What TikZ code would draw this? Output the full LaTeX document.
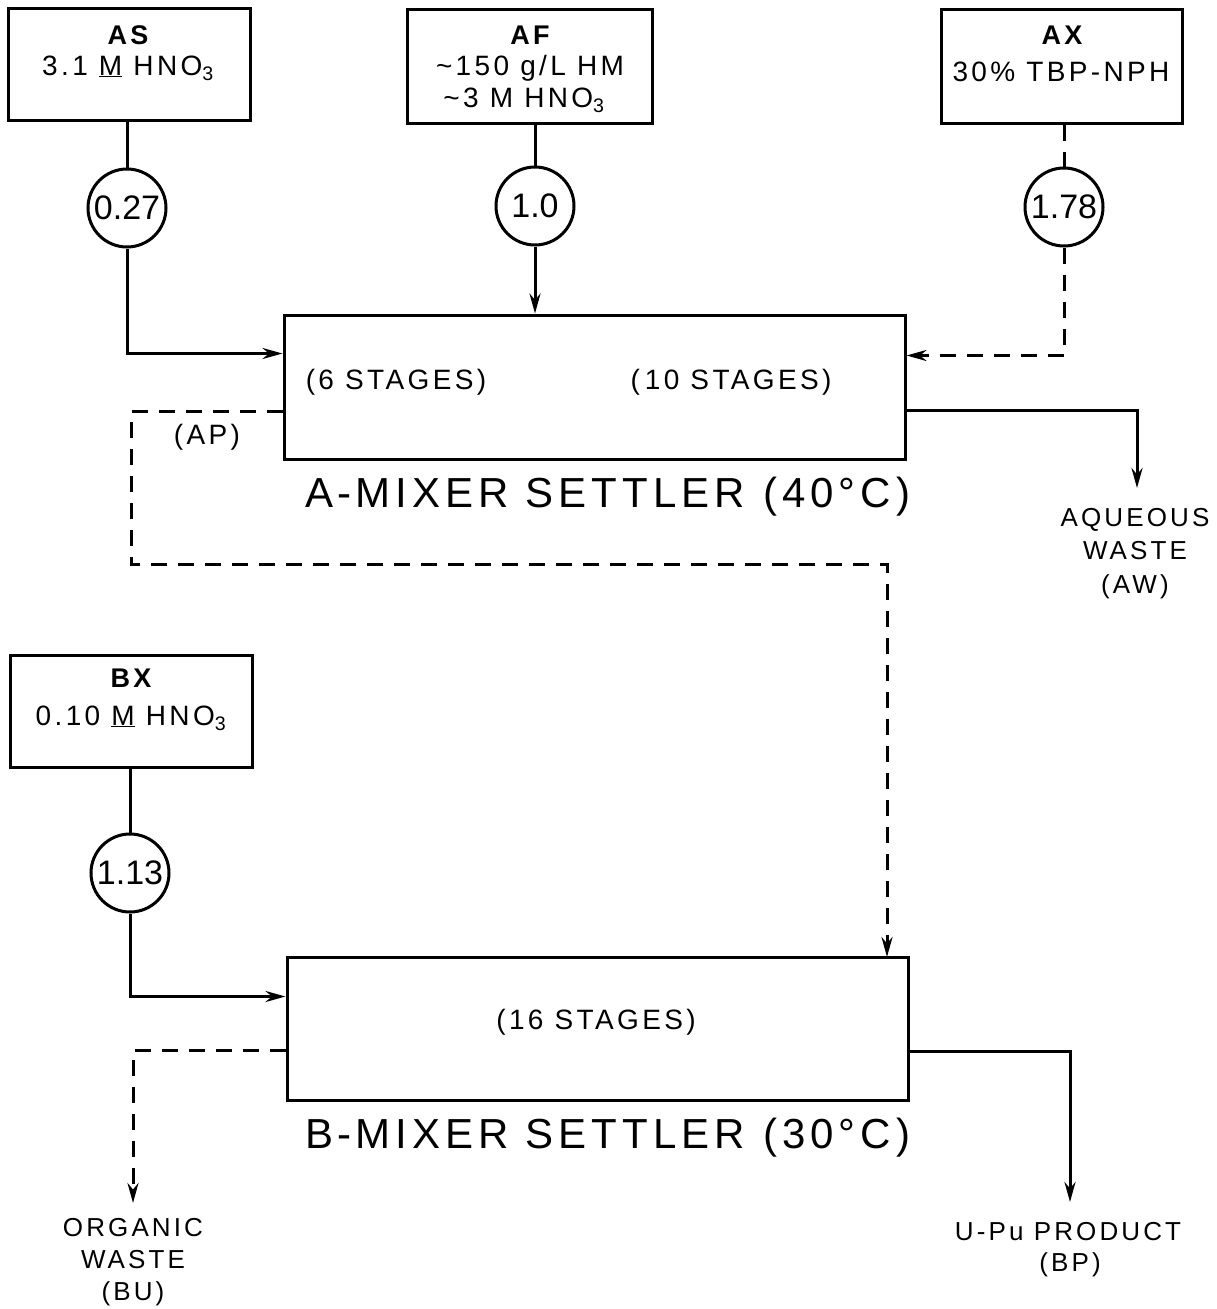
\documentclass[tikz,border=0pt]{standalone}
\usepackage{fontspec}
\setmainfont{Liberation Sans}
\newfontfamily\lr[LetterSpace=12]{Liberation Sans}
\usetikzlibrary{arrows.meta,calc}
\begin{document}
\begin{tikzpicture}[x=1pt,y=-1pt,
  line width=3pt,
  box/.style={draw,rectangle,inner sep=0pt},
  flow/.style={circle,draw,minimum size=78pt,inner sep=0pt,font=\fontsize{34}{36}\selectfont},
  arr/.style={-{Stealth[length=20pt,width=11pt]}},
  dsh/.style={dash pattern=on 16pt off 11pt},
  lab/.style={font=\lr\fontsize{28}{30}\selectfont,inner sep=0pt},
  small/.style={font=\lr\fontsize{26}{28}\selectfont,inner sep=0pt},
  big/.style={font=\lr\fontsize{42}{44}\selectfont,inner sep=0pt},
  head/.style={font=\lr\bfseries\fontsize{27}{28}\selectfont,inner sep=0pt},
]
\useasboundingbox (0,0) rectangle (1217,1309);
% feed boxes
\node[box,minimum width=242pt,minimum height=112pt] (AS) at (129,64) {};
\node[box,minimum width=245pt,minimum height=114pt] (AF) at (529.5,66) {};
\node[box,minimum width=241pt,minimum height=114pt] (AX) at (1061.5,66) {};
\node[box,minimum width=242pt,minimum height=112pt] (BX) at (131,711) {};
% box texts
\node[head] (tAS) at (128,35) {AS};
\node[lab] (tAS2) at (128,68) {3.1 \underline{M} HNO\textsubscript{3}};
\node[head] (tAF) at (530,35) {AF};
\node[lab] (tAF2) at (530,68) {\textasciitilde150 g/L HM};
\node[lab] (tAF3) at (524,100) {\textasciitilde3 M HNO\textsubscript{3}};
\node[head] (tAX) at (1062,35) {AX};
\node[lab] (tAX2) at (1061,72) {30\% TBP-NPH};
\node[head] (tBX) at (131,678) {BX};
\node[lab] (tBX2) at (131,718) {0.10 \underline{M} HNO\textsubscript{3}};
% flow circles
\node[flow] (c1) at (127,208) {0.27};
\node[flow] (c2) at (535,206) {1.0};
\node[flow] (c3) at (1064,207) {1.78};
\node[flow] (c4) at (130,873) {1.13};
% mixer settlers
\node[box,minimum width=621pt,minimum height=144pt] (A) at (594.5,387) {};
\node[box,minimum width=621pt,minimum height=143pt] (B) at (597.5,1028.5) {};
\node[lab] (s6) at (396,382) {(6 STAGES)};
\node[lab] (s10) at (731,382) {(\hspace{5pt}10 STAGES)};
\node[lab] (s16) at (596,1022) {(16 STAGES)};
\node[lab] (ap) at (207,437) {(AP)};
\node[big] (tA) at (608,497) {A\hspace{4pt}-\hspace{4pt}MIXER SETTLER\hspace{18pt}(40\textdegree C)};
\node[big] (tB) at (608,1138) {B\hspace{4pt}-\hspace{4pt}MIXER SETTLER\hspace{18pt}(30\textdegree C)};
% outlet labels
\node[small] (aw1) at (1135,520) {AQUEOUS};
\node[small] (aw2) at (1135,551) {WASTE};
\node[small] (aw3) at (1135,587) {(AW)};
\node[small] (bu1) at (133,1228) {ORGANIC};
\node[small] (bu2) at (133,1260) {WASTE};
\node[small] (bu3) at (133,1294) {(BU)};
\node[small] (bp1) at (1068,1232) {U-Pu PRODUCT};
\node[small] (bp2) at (1070,1265) {(BP)};
% coordinates
\coordinate (Ain) at ($(A.north west)+(0,40)$);
\coordinate (Axin) at ($(A.north east)+(0,42)$);
\coordinate (Aw) at ($(A.north east)+(0,97)$);
\coordinate (Aap) at ($(A.north west)+(0,98)$);
\coordinate (awtip) at (1137,488);
\coordinate (apc) at (131,564);
\coordinate (apend) at (887,957);
\coordinate (Bin) at ($(B.north west)+(0,41)$);
\coordinate (Bu) at ($(B.north west)+(0,95)$);
\coordinate (Bp) at ($(B.north east)+(0,96)$);
\coordinate (butip) at (133,1203);
\coordinate (bptip) at (1070,1202);
% connectors
\draw (c1|-AS.south) -- (c1.north);
\draw[arr] (c1.south) |- (Ain);
\draw (c2|-AF.south) -- (c2.north);
\draw[arr] (c2.south) -- (c2|-A.north);
\draw[dsh] (c3|-AX.south) -- (c3.north);
\draw[dsh,arr] (c3.south) |- (Axin);
\draw[arr] (Aw) -| (awtip);
\draw[dsh,arr] (Aap) -| (apc) -| (apend);
\draw (c4|-BX.south) -- (c4.north);
\draw[arr] (c4.south) |- (Bin);
\draw[dsh,arr] (Bu) -| (butip);
\draw[arr] (Bp) -| (bptip);
\end{tikzpicture}
\end{document}
